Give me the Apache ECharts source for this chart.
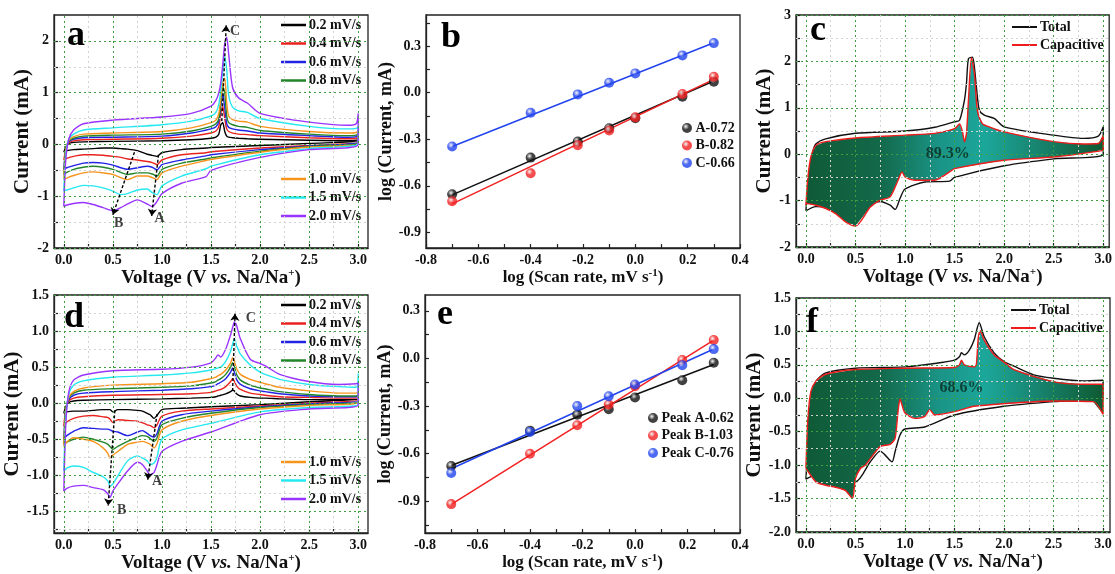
<!DOCTYPE html>
<html>
<head>
<meta charset="utf-8">
<script src="https://cdn.jsdelivr.net/npm/echarts@6/dist/echarts.min.js"></script>
<style>
html, body { margin: 0; padding: 0; background: #fff; }
#main { width: 1115px; height: 574px; }
</style>
</head>
<body>
<div id="main"></div>
<script>
// ---- CV curves, panel a (voltage grids shared by all scan rates) ----
var RATES = ['0.2 mV/s', '0.4 mV/s', '0.6 mV/s', '0.8 mV/s', '1.0 mV/s', '1.5 mV/s', '2.0 mV/s'];
var RATE_COLORS = ['#000000', '#e8231f', '#2323e6', '#23852a', '#f7941d', '#25e8f0', '#9933ff'];

var VA_UP = [0, 0.02, 0.05, 0.1, 0.2, 0.5, 1.0, 1.3, 1.5, 1.55, 1.58, 1.6, 1.62, 1.64, 1.66, 1.68, 1.72, 1.78, 1.87, 2.0, 2.5, 2.9, 2.98, 3.0];
var A_UP = [
    [-0.15, -0.05, 0.02, 0.04, 0.05, 0.06, 0.07, 0.09, 0.12, 0.14, 0.2, 0.38, 0.42, 0.25, 0.16, 0.14, 0.13, 0.12, 0.11, 0.1, 0.08, 0.07, 0.08, 0.1],
    [-0.3, -0.1, 0.03, 0.07, 0.09, 0.1, 0.12, 0.16, 0.22, 0.26, 0.35, 0.6, 0.73, 0.5, 0.3, 0.25, 0.22, 0.2, 0.19, 0.17, 0.13, 0.11, 0.12, 0.15],
    [-0.48, -0.1, 0.05, 0.1, 0.13, 0.14, 0.16, 0.22, 0.3, 0.34, 0.45, 0.75, 0.98, 0.7, 0.4, 0.33, 0.3, 0.28, 0.26, 0.22, 0.17, 0.14, 0.15, 0.2],
    [-0.58, -0.1, 0.06, 0.12, 0.16, 0.18, 0.2, 0.26, 0.35, 0.4, 0.5, 0.8, 1.12, 1.0, 0.55, 0.42, 0.38, 0.35, 0.33, 0.27, 0.2, 0.17, 0.18, 0.22],
    [-0.68, -0.1, 0.08, 0.15, 0.2, 0.22, 0.25, 0.32, 0.42, 0.47, 0.6, 0.9, 1.2, 1.28, 0.8, 0.55, 0.48, 0.45, 0.43, 0.35, 0.25, 0.22, 0.23, 0.27],
    [-0.9, -0.2, 0.1, 0.2, 0.28, 0.32, 0.38, 0.45, 0.55, 0.62, 0.78, 1.05, 1.4, 1.7, 1.45, 0.95, 0.72, 0.65, 0.62, 0.5, 0.35, 0.3, 0.31, 0.35],
    [-1.2, -0.3, 0.1, 0.28, 0.4, 0.47, 0.53, 0.6, 0.74, 0.85, 1.0, 1.2, 1.55, 1.95, 2.07, 1.75, 1.1, 0.9, 0.8, 0.6, 0.43, 0.37, 0.4, 0.6]
];
var VA_LO = [3.0, 2.5, 2.0, 1.5, 1.45, 1.2, 1.0, 0.95, 0.9, 0.85, 0.75, 0.65, 0.58, 0.5, 0.4, 0.3, 0.2, 0.1, 0.03, 0.0];
var A_LO = [
    [0.06, 0.02, -0.02, -0.06, -0.07, -0.1, -0.16, -0.23, -0.21, -0.19, -0.12, -0.09, -0.08, -0.07, -0.07, -0.08, -0.09, -0.1, -0.12, -0.15],
    [0.04, -0.02, -0.07, -0.14, -0.16, -0.2, -0.3, -0.39, -0.35, -0.33, -0.3, -0.28, -0.25, -0.23, -0.21, -0.2, -0.2, -0.23, -0.27, -0.3],
    [0.04, -0.03, -0.1, -0.2, -0.22, -0.3, -0.39, -0.49, -0.44, -0.42, -0.45, -0.48, -0.45, -0.4, -0.36, -0.35, -0.36, -0.41, -0.45, -0.48],
    [0.03, -0.04, -0.13, -0.26, -0.28, -0.36, -0.48, -0.61, -0.57, -0.55, -0.55, -0.58, -0.54, -0.48, -0.44, -0.42, -0.44, -0.48, -0.54, -0.58],
    [0.02, -0.05, -0.15, -0.29, -0.31, -0.42, -0.55, -0.68, -0.64, -0.61, -0.61, -0.68, -0.64, -0.58, -0.55, -0.53, -0.55, -0.6, -0.65, -0.68],
    [0.02, -0.08, -0.2, -0.42, -0.47, -0.61, -0.8, -0.97, -0.93, -0.86, -0.88, -0.95, -0.97, -0.9, -0.84, -0.8, -0.79, -0.84, -0.88, -0.9],
    [0.0, -0.1, -0.25, -0.5, -0.62, -0.75, -0.95, -1.1, -1.2, -1.15, -1.07, -1.15, -1.22, -1.28, -1.22, -1.16, -1.12, -1.14, -1.17, -1.2]
];

// ---- CV curves, panel d ----
var VD_UP = [0, 0.02, 0.05, 0.1, 0.2, 0.5, 1.0, 1.3, 1.5, 1.55, 1.57, 1.6, 1.65, 1.7, 1.72, 1.74, 1.76, 1.8, 1.9, 2.0, 2.05, 2.2, 2.5, 2.8, 2.98, 3.0];
var D_UP = [
    [-0.14, -0.05, 0.01, 0.03, 0.04, 0.05, 0.06, 0.07, 0.08, 0.09, 0.1, 0.11, 0.13, 0.16, 0.18, 0.17, 0.13, 0.1, 0.08, 0.07, 0.07, 0.06, 0.05, 0.05, 0.05, 0.06],
    [-0.32, -0.08, 0.03, 0.07, 0.09, 0.11, 0.12, 0.13, 0.15, 0.17, 0.18, 0.19, 0.23, 0.3, 0.34, 0.3, 0.24, 0.19, 0.14, 0.12, 0.11, 0.09, 0.08, 0.07, 0.07, 0.08],
    [-0.5, -0.1, 0.05, 0.11, 0.14, 0.16, 0.18, 0.2, 0.23, 0.25, 0.27, 0.29, 0.34, 0.43, 0.49, 0.42, 0.33, 0.26, 0.2, 0.17, 0.16, 0.13, 0.1, 0.09, 0.09, 0.1],
    [-0.57, -0.1, 0.07, 0.14, 0.18, 0.2, 0.22, 0.24, 0.28, 0.3, 0.32, 0.34, 0.4, 0.5, 0.56, 0.5, 0.4, 0.32, 0.25, 0.21, 0.2, 0.16, 0.12, 0.1, 0.1, 0.12],
    [-0.6, -0.12, 0.08, 0.16, 0.21, 0.25, 0.27, 0.29, 0.34, 0.36, 0.38, 0.4, 0.46, 0.56, 0.63, 0.58, 0.48, 0.4, 0.33, 0.29, 0.27, 0.22, 0.17, 0.14, 0.14, 0.16],
    [-0.94, -0.2, 0.12, 0.25, 0.31, 0.36, 0.39, 0.42, 0.46, 0.48, 0.49, 0.5, 0.58, 0.72, 0.82, 0.89, 0.8, 0.68, 0.53, 0.43, 0.4, 0.33, 0.26, 0.23, 0.22, 0.41],
    [-1.22, -0.3, 0.15, 0.32, 0.39, 0.45, 0.47, 0.5, 0.56, 0.63, 0.67, 0.64, 0.75, 0.95, 1.05, 1.13, 1.08, 0.89, 0.61, 0.55, 0.52, 0.4, 0.3, 0.26, 0.27, 0.28]
];
var VD_LO = [3.0, 2.5, 2.0, 1.5, 1.2, 1.0, 0.95, 0.92, 0.88, 0.85, 0.8, 0.75, 0.65, 0.55, 0.5, 0.47, 0.45, 0.4, 0.3, 0.2, 0.1, 0.03, 0.0];
var D_LO = [
    [0.05, 0.02, -0.02, -0.05, -0.07, -0.09, -0.17, -0.21, -0.16, -0.14, -0.11, -0.1, -0.09, -0.09, -0.12, -0.09, -0.09, -0.09, -0.1, -0.11, -0.11, -0.12, -0.14],
    [0.04, 0.0, -0.04, -0.08, -0.11, -0.18, -0.3, -0.34, -0.31, -0.3, -0.27, -0.25, -0.24, -0.23, -0.27, -0.22, -0.2, -0.19, -0.17, -0.18, -0.21, -0.26, -0.32],
    [0.03, -0.01, -0.05, -0.11, -0.16, -0.25, -0.42, -0.47, -0.45, -0.42, -0.38, -0.4, -0.45, -0.4, -0.39, -0.37, -0.36, -0.36, -0.35, -0.34, -0.39, -0.45, -0.5],
    [0.02, -0.02, -0.06, -0.14, -0.21, -0.3, -0.48, -0.53, -0.49, -0.46, -0.45, -0.47, -0.53, -0.6, -0.64, -0.6, -0.57, -0.54, -0.5, -0.47, -0.5, -0.54, -0.57],
    [0.01, -0.03, -0.08, -0.17, -0.25, -0.37, -0.56, -0.62, -0.57, -0.55, -0.53, -0.54, -0.57, -0.67, -0.72, -0.76, -0.7, -0.62, -0.53, -0.5, -0.48, -0.54, -0.6],
    [-0.02, -0.06, -0.12, -0.28, -0.37, -0.5, -0.75, -0.83, -0.85, -0.8, -0.76, -0.73, -0.8, -1.01, -1.12, -1.15, -1.08, -1.02, -0.96, -0.89, -0.87, -0.9, -0.94],
    [-0.03, -0.08, -0.16, -0.4, -0.53, -0.67, -0.85, -0.96, -0.99, -0.94, -0.85, -0.82, -0.94, -1.12, -1.22, -1.31, -1.26, -1.2, -1.17, -1.14, -1.15, -1.18, -1.22]
];

// ---- panel c: total vs capacitive at 2.0 mV/s ----
var VC_UP = [0, 0.03, 0.07, 0.1, 0.2, 0.5, 1.0, 1.3, 1.5, 1.55, 1.6, 1.62, 1.64, 1.68, 1.7, 1.72, 1.75, 1.8, 1.9, 2.0, 2.5, 2.8, 2.95, 3.0];
var C_TOT_UP = [-1.22, -0.5, 0.05, 0.22, 0.33, 0.45, 0.5, 0.58, 0.7, 0.73, 1.17, 1.53, 2.06, 2.09, 1.88, 1.45, 0.95, 0.84, 0.77, 0.59, 0.41, 0.34, 0.39, 0.59];
var VC_LO = [3.0, 2.5, 2.0, 1.5, 1.45, 1.2, 1.0, 0.95, 0.9, 0.85, 0.75, 0.6, 0.5, 0.3, 0.1, 0.0];
var C_TOT_LO = [0.0, -0.1, -0.25, -0.5, -0.58, -0.6, -0.75, -0.95, -1.19, -1.1, -1.02, -1.1, -1.2, -1.15, -1.13, -1.22];
var VC_CAP_UP = [0, 0.02, 0.05, 0.1, 0.2, 0.5, 1.0, 1.3, 1.5, 1.55, 1.58, 1.6, 1.62, 1.64, 1.67, 1.7, 1.73, 1.78, 1.85, 2.0, 2.5, 2.8, 2.95, 3.0];
var C_CAP_UP = [-1.1, -0.5, -0.06, 0.19, 0.27, 0.35, 0.41, 0.45, 0.55, 0.65, 0.48, 0.27, 0.45, 1.17, 2.08, 1.74, 0.95, 0.66, 0.59, 0.48, 0.27, 0.22, 0.23, 0.41];
var VC_CAP_LO = [3.0, 2.9, 2.5, 2.0, 1.5, 1.45, 1.3, 1.1, 1.0, 0.97, 0.93, 0.85, 0.75, 0.65, 0.5, 0.4, 0.3, 0.2, 0.1, 0.0];
var C_CAP_LO = [0.1, 0.05, -0.06, -0.13, -0.31, -0.38, -0.56, -0.56, -0.49, -0.38, -0.56, -0.92, -0.99, -1.14, -1.55, -1.46, -1.28, -1.17, -1.1, -1.06];

// ---- panel f ----
var VF_UP = [0, 0.03, 0.07, 0.1, 0.2, 0.5, 1.0, 1.3, 1.5, 1.55, 1.57, 1.6, 1.65, 1.7, 1.75, 1.8, 1.9, 2.0, 2.1, 2.3, 2.5, 2.8, 3.0];
var F_TOT_UP = [-1.21, -0.5, 0.1, 0.25, 0.38, 0.45, 0.47, 0.52, 0.57, 0.62, 0.68, 0.65, 0.72, 0.88, 1.13, 0.92, 0.68, 0.55, 0.48, 0.35, 0.3, 0.26, 0.27];
var VF_LO = [3.0, 2.5, 2.0, 1.5, 1.2, 1.0, 0.95, 0.9, 0.87, 0.8, 0.75, 0.65, 0.5, 0.3, 0.1, 0.0];
var F_TOT_LO = [0.0, -0.05, -0.12, -0.25, -0.43, -0.46, -0.55, -0.8, -0.95, -0.85, -0.79, -0.95, -1.25, -1.2, -1.15, -1.21];
var VF_CAP_UP = [0, 0.02, 0.05, 0.1, 0.2, 0.5, 1.0, 1.5, 1.55, 1.57, 1.6, 1.7, 1.72, 1.74, 1.76, 1.8, 1.9, 2.0, 2.1, 2.5, 2.8, 3.0];
var F_CAP_UP = [-1.04, -0.3, 0.1, 0.25, 0.36, 0.43, 0.45, 0.46, 0.5, 0.57, 0.5, 0.47, 0.5, 0.9, 1.01, 0.87, 0.65, 0.54, 0.43, 0.25, 0.21, 0.21];
var VF_CAP_LO = [3.0, 2.9, 2.5, 2.0, 1.7, 1.5, 1.3, 1.25, 1.2, 1.1, 1.0, 0.97, 0.95, 0.93, 0.9, 0.85, 0.75, 0.6, 0.55, 0.5, 0.47, 0.4, 0.3, 0.2, 0.1, 0.0];
var F_CAP_LO = [-0.24, -0.05, -0.04, -0.08, -0.12, -0.2, -0.25, -0.17, -0.27, -0.3, -0.22, -0.1, -0.01, -0.2, -0.6, -0.69, -0.72, -1.0, -1.05, -1.2, -1.5, -1.38, -1.33, -1.3, -1.25, -1.05];

// ---- panels b and e: log(peak current) vs log(scan rate) ----
var LOG_RATE = [-0.7, -0.4, -0.22, -0.1, 0.0, 0.18, 0.3];
var FIT_X = [-0.7, 0.3];
var B_NAMES = ['A-0.72', 'B-0.82', 'C-0.66'];
var B_PEAKS = [
    [-0.654, -0.418, -0.315, -0.229, -0.165, -0.026, 0.071],
    [-0.699, -0.519, -0.339, -0.244, -0.159, -0.009, 0.103],
    [-0.347, -0.129, -0.011, 0.064, 0.124, 0.24, 0.319]
];
var B_FITS = [[-0.658, 0.075], [-0.716, 0.086], [-0.347, 0.321]];
var E_NAMES = ['Peak A-0.62', 'Peak B-1.03', 'Peak C-0.76'];
var E_PEAKS = [
    [-0.678, -0.455, -0.354, -0.32, -0.246, -0.137, -0.027],
    [-0.918, -0.6, -0.421, -0.29, -0.175, -0.01, 0.116],
    [-0.722, -0.463, -0.30, -0.238, -0.164, -0.042, 0.059]
];
var E_FITS = [[-0.675, -0.038], [-0.92, 0.115], [-0.695, 0.06]];
var FIT_COLORS = ['#111111', '#f22020', '#2244ee'];

// ---- annotations ----
var A_TEXT = [[1.745, 2.18, 'C'], [0.975, -1.42, 'A'], [0.56, -1.53, 'B']];
var D_TEXT = [[1.905, 1.18, 'C'], [0.95, -1.08, 'A'], [0.59, -1.48, 'B']];
var A_ARROWS = [[[1.61, 0.45], [1.655, 2.3]], [[0.965, -0.2], [0.895, -1.38]], [[0.72, -0.15], [0.5, -1.36]]];
var D_ARROWS = [[[1.72, 0.17], [1.745, 1.24]], [[0.95, -0.15], [0.855, -1.06]], [[0.52, -0.1], [0.452, -1.42]]];
var C_PCT = [[1.43, 0.0, '89.3%']];
var F_PCT = [[1.57, 0.15, '68.6%']];

// ---- tick values ----
var V_LABELS = [0, 0.5, 1.0, 1.5, 2.0, 2.5, 3.0];
var V_MINOR = [0.25, 0.75, 1.25, 1.75, 2.25, 2.75];
var A_Y = [-2, -1, 0, 1, 2];
var A_Y_MINOR = [-1.5, -0.5, 0.5, 1.5];
var C_Y = [-2, -1, 0, 1, 2, 3];
var C_Y_MINOR = [-1.5, -0.5, 0.5, 1.5, 2.5];
var D_Y = [-1.5, -1.0, -0.5, 0, 0.5, 1.0, 1.5];
var D_Y_MINOR = [-1.75, -1.25, -0.75, -0.25, 0.25, 0.75, 1.25];
var F_Y = [-2.0, -1.5, -1.0, -0.5, 0, 0.5, 1.0, 1.5];
var F_Y_MINOR = [-1.75, -1.25, -0.75, -0.25, 0.25, 0.75, 1.25];
var LOG_X = [-0.8, -0.6, -0.4, -0.2, 0, 0.2, 0.4];
var LOG_X_TICKS = [-0.8, -0.7, -0.6, -0.5, -0.4, -0.3, -0.2, -0.1, 0, 0.1, 0.2, 0.3, 0.4];
var LOG_Y = [-0.9, -0.6, -0.3, 0, 0.3];
var B_Y_TICKS = [-0.9, -0.75, -0.6, -0.45, -0.3, -0.15, 0, 0.15, 0.3, 0.45];
var E_Y_TICKS = [-1.05, -0.9, -0.75, -0.6, -0.45, -0.3, -0.15, 0, 0.15, 0.3];

var SERIF = '"Liberation Serif", "Times New Roman", serif';
var INK = '#111';

function pts(xs, ys) {
    return xs.map(function (x, i) { return [x, ys[i]]; });
}

function loop(xu, yu, xl, yl) {
    return pts(xu, yu).concat(pts(xl, yl));
}

function nameStyle(size) {
    return {
        fontFamily: SERIF, fontWeight: 'bold', fontSize: size, color: INK,
        rich: {
            i: { fontFamily: SERIF, fontWeight: 'bold', fontStyle: 'italic', fontSize: size, color: INK },
            s: { fontFamily: SERIF, fontWeight: 'bold', fontSize: 11, color: INK, verticalAlign: 'bottom', padding: [0, 0, 9, 0] }
        }
    };
}

function axis(g, min, max, labels, ticks, digits, name, gap, size) {
    return {
        type: 'value', gridIndex: g, min: min, max: max,
        axisLine: { show: true, onZero: false, lineStyle: { color: '#222', width: 1.3 } },
        axisTick: { show: true, inside: true, length: 4, customValues: ticks, lineStyle: { color: '#222', width: 1.2 } },
        axisLabel: {
            customValues: labels, margin: 5,
            formatter: function (v) { return (+v).toFixed(digits); },
            fontFamily: SERIF, fontWeight: 'bold', fontSize: 14, color: INK
        },
        splitLine: { show: false },
        name: name, nameLocation: 'middle', nameGap: gap,
        nameTextStyle: nameStyle(size)
    };
}

var MAJOR = { color: '#3f9f3f', type: [2, 3], width: 1 };
var MINOR = { color: '#d2d2d2', type: [2, 3], width: 1 };

function gridLines(g, xMaj, xMin, yMaj, yMin) {
    var d = [];
    xMin.forEach(function (v) { d.push({ xAxis: v, lineStyle: MINOR }); });
    yMin.forEach(function (v) { d.push({ yAxis: v, lineStyle: MINOR }); });
    xMaj.forEach(function (v) { d.push({ xAxis: v, lineStyle: MAJOR }); });
    yMaj.forEach(function (v) { d.push({ yAxis: v, lineStyle: MAJOR }); });
    return {
        type: 'line', xAxisIndex: g, yAxisIndex: g, data: [], silent: true, z: 1,
        markLine: { silent: true, symbol: ['none', 'none'], label: { show: false }, animation: false, data: d }
    };
}

function curve(g, name, data, color, z) {
    return {
        type: 'line', name: name, xAxisIndex: g, yAxisIndex: g, data: data,
        symbol: 'none', smooth: 0.25, z: z || 2,
        lineStyle: { color: color, width: 1.4 }, itemStyle: { color: color }
    };
}

function texts(g, data, size, color) {
    return {
        type: 'scatter', xAxisIndex: g, yAxisIndex: g, data: data, silent: true, z: 10,
        symbolSize: 1, itemStyle: { color: 'transparent' },
        label: {
            show: true, position: 'inside', formatter: function (p) { return p.data[2]; },
            fontFamily: SERIF, fontWeight: 'bold', fontSize: size, color: color
        }
    };
}

function arrows(g, list) {
    return {
        type: 'line', xAxisIndex: g, yAxisIndex: g, data: [], silent: true, z: 9,
        markLine: {
            silent: true, symbol: ['none', 'arrow'], symbolSize: 7, animation: false,
            label: { show: false },
            lineStyle: { color: '#000', type: [3, 2], width: 1.4 },
            data: list.map(function (a) { return [{ coord: a[0] }, { coord: a[1] }]; })
        }
    };
}

var FILL = {
    type: 'linear', x: 0, y: 0, x2: 1, y2: 0,
    colorStops: [
        { offset: 0, color: '#0f5a37' },
        { offset: 0.25, color: '#13694a' },
        { offset: 0.45, color: '#1a9486' },
        { offset: 0.6, color: '#1ca79b' },
        { offset: 0.8, color: '#17806a' },
        { offset: 1, color: '#0e5a33' }
    ]
};

function fill(g, poly) {
    return {
        type: 'custom', xAxisIndex: g, yAxisIndex: g, data: [[0, 0]], silent: true, z: 3,
        renderItem: function (params, api) {
            var p = poly.map(function (d) { return api.coord(d); });
            return { type: 'polygon', shape: { points: p }, style: { fill: FILL, stroke: 'none' } };
        }
    };
}

function ball(color) {
    return {
        type: 'radial', x: 0.38, y: 0.35, r: 0.7,
        colorStops: [{ offset: 0, color: '#f4f4f4' }, { offset: 0.45, color: color }, { offset: 1, color: color }]
    };
}

function legend(names, left, top, gap, w, h, icon) {
    return {
        data: names, orient: 'vertical', left: left, top: top, itemGap: gap,
        itemWidth: w, itemHeight: h, padding: 0, selectedMode: false, icon: icon,
        textStyle: { fontFamily: SERIF, fontWeight: 'bold', fontSize: 14, lineHeight: 14, color: INK, padding: [0, 0, 0, -2] }
    };
}

var V_NAME = 'Voltage (V {i|vs.} Na/Na{s|+})';
var series = [];

// panel a (0) and d (3)
series.push(gridLines(0, V_LABELS, V_MINOR, A_Y, A_Y_MINOR));
series.push(gridLines(3, V_LABELS, V_MINOR, D_Y, D_Y_MINOR));
for (var k = 0; k < RATES.length; k++) {
    series.push(curve(0, RATES[k], loop(VA_UP, A_UP[k], VA_LO, A_LO[k]), RATE_COLORS[k], 2 + k * 0.01));
    series.push(curve(3, RATES[k], loop(VD_UP, D_UP[k], VD_LO, D_LO[k]), RATE_COLORS[k], 2 + k * 0.01));
}
series.push(arrows(0, A_ARROWS), texts(0, A_TEXT, 14, INK));
series.push(arrows(3, D_ARROWS), texts(3, D_TEXT, 14, INK));

// panel c (2) and f (5)
series.push(gridLines(2, V_LABELS, V_MINOR, C_Y, C_Y_MINOR));
series.push(curve(2, 'Total', loop(VC_UP, C_TOT_UP, VC_LO, C_TOT_LO), '#111', 2));
series.push(fill(2, loop(VC_CAP_UP, C_CAP_UP, VC_CAP_LO, C_CAP_LO)));
series.push(curve(2, 'Capacitive', loop(VC_CAP_UP, C_CAP_UP, VC_CAP_LO, C_CAP_LO), '#ee1c1c', 4));
series.push(texts(2, C_PCT, 16, '#0a2a20'));
series.push(gridLines(5, V_LABELS, V_MINOR, F_Y, F_Y_MINOR));
series.push(curve(5, 'Total', loop(VF_UP, F_TOT_UP, VF_LO, F_TOT_LO), '#111', 2));
series.push(fill(5, loop(VF_CAP_UP, F_CAP_UP, VF_CAP_LO, F_CAP_LO)));
series.push(curve(5, 'Capacitive', loop(VF_CAP_UP, F_CAP_UP, VF_CAP_LO, F_CAP_LO), '#ee1c1c', 4));
series.push(texts(5, F_PCT, 16, '#0a2a20'));

// panels b (1) and e (4)
for (var j = 0; j < 3; j++) {
    series.push({
        type: 'line', xAxisIndex: 1, yAxisIndex: 1, data: pts(FIT_X, B_FITS[j]), symbol: 'none', silent: true,
        lineStyle: { color: FIT_COLORS[j], width: 1.5 }, z: 2
    });
    series.push({
        type: 'scatter', name: B_NAMES[j], xAxisIndex: 1, yAxisIndex: 1, data: pts(LOG_RATE, B_PEAKS[j]),
        symbolSize: 10, itemStyle: { color: ball(FIT_COLORS[j]) }, z: 3
    });
    series.push({
        type: 'line', xAxisIndex: 4, yAxisIndex: 4, data: pts(FIT_X, E_FITS[j]), symbol: 'none', silent: true,
        lineStyle: { color: FIT_COLORS[j], width: 1.5 }, z: 2
    });
    series.push({
        type: 'scatter', name: E_NAMES[j], xAxisIndex: 4, yAxisIndex: 4, data: pts(LOG_RATE, E_PEAKS[j]),
        symbolSize: 10, itemStyle: { color: ball(FIT_COLORS[j]) }, z: 3
    });
}

var boxes = [
    { left: 54, top: 15, width: 314, height: 233 },
    { left: 426, top: 15, width: 314, height: 233 },
    { left: 796, top: 15, width: 314, height: 232 },
    { left: 54, top: 295, width: 314, height: 238 },
    { left: 425, top: 295, width: 315, height: 238 },
    { left: 796, top: 298, width: 314, height: 234 }
];
var grids = boxes.map(function (b) {
    return { left: b.left, top: b.top, width: b.width, height: b.height, show: true, borderColor: '#222', borderWidth: 1.3, backgroundColor: 'transparent' };
});

var X_NAME_LOG = 'log (Scan rate, mV s{s|-1})';
var xAxes = [
    axis(0, -0.1, 3.1, V_LABELS, V_LABELS.concat(V_MINOR), 1, V_NAME, 12, 19),
    axis(1, -0.8, 0.4, LOG_X, LOG_X_TICKS, 1, X_NAME_LOG, 12, 17),
    axis(2, -0.1, 3.06, V_LABELS, V_LABELS.concat(V_MINOR), 1, V_NAME, 12, 19),
    axis(3, -0.1, 3.1, V_LABELS, V_LABELS.concat(V_MINOR), 1, V_NAME, 16, 19),
    axis(4, -0.8, 0.4, LOG_X, LOG_X_TICKS, 1, X_NAME_LOG, 16, 17),
    axis(5, -0.1, 3.07, V_LABELS, V_LABELS.concat(V_MINOR), 1, V_NAME, 16, 19)
];
var yAxes = [
    axis(0, -2, 2.5, A_Y, A_Y.concat(A_Y_MINOR), 0, 'Current (mA)', 16, 21),
    axis(1, -1.0, 0.5, LOG_Y, B_Y_TICKS, 1, 'log (Current, mA)', 29, 18),
    axis(2, -2, 3, C_Y, C_Y.concat(C_Y_MINOR), 0, 'Current (mA)', 18, 21),
    axis(3, -1.8, 1.5, D_Y, D_Y.concat(D_Y_MINOR), 1, 'Current (mA)', 22, 21),
    axis(4, -1.1, 0.4, LOG_Y, E_Y_TICKS, 1, 'log (Current, mA)', 28, 18),
    axis(5, -2, 1.5, F_Y, F_Y.concat(F_Y_MINOR), 1, 'Current (mA)', 24, 21)
];

function letter(t, x, y) {
    return { type: 'text', x: x, y: y, z: 20, style: { text: t, font: 'bold 36px ' + SERIF, fill: '#000', verticalAlign: 'middle' } };
}

var myChart = echarts.init(document.getElementById('main'), null, { renderer: 'canvas' });
myChart.setOption({
    animation: false,
    backgroundColor: '#fff',
    grid: grids,
    xAxis: xAxes,
    yAxis: yAxes,
    legend: [
        legend(RATES.slice(0, 4), 281, 18, 4.5, 25, 2.5, 'rect'),
        legend(RATES.slice(4), 281, 172, 4.5, 25, 2.5, 'rect'),
        legend(RATES.slice(0, 4), 281, 298, 4.5, 25, 2.5, 'rect'),
        legend(RATES.slice(4), 281, 455, 4.5, 25, 2.5, 'rect'),
        legend(B_NAMES, 682, 121, 3.5, 11, 10, 'circle'),
        legend(E_NAMES, 648, 411, 3.5, 11, 10, 'circle'),
        legend(['Total', 'Capacitive'], 1012, 20, 4, 25, 2, 'rect'),
        legend(['Total', 'Capacitive'], 1011, 303, 4, 25, 2, 'rect')
    ],
    graphic: [
        letter('a', 67, 36),
        letter('b', 441, 38),
        letter('c', 810, 31),
        letter('d', 64, 318),
        letter('e', 437, 315),
        letter('f', 806, 323)
    ],
    series: series
});
</script>
</body>
</html>
